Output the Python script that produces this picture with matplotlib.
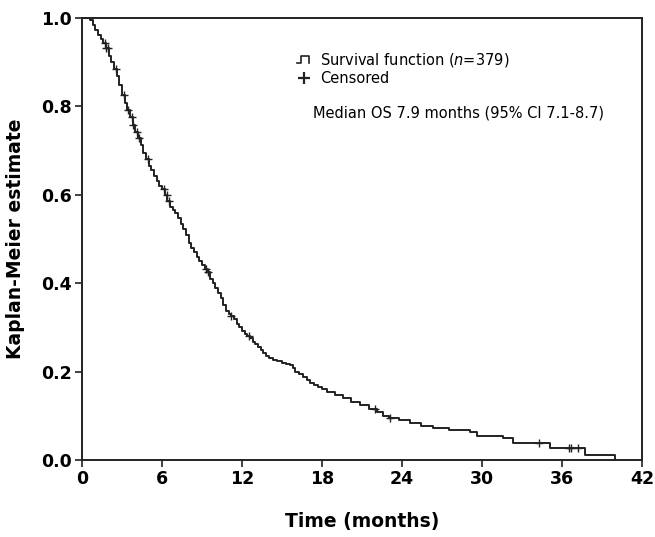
import numpy as np
import matplotlib
matplotlib.use("Agg")
import matplotlib.pyplot as plt
from matplotlib.lines import Line2D
from matplotlib.legend_handler import HandlerBase

# Kaplan-Meier steps (months, survival after the step)
step_times = [
    0.0, 0.6, 0.8, 1.0, 1.2, 1.4, 1.6, 1.8, 2.0, 2.2, 2.4, 2.6, 2.8, 3.0, 3.2,
    3.4, 3.6, 3.8, 4.0, 4.2, 4.4, 4.6, 4.8, 5.0, 5.2, 5.4, 5.6, 5.8, 6.0, 6.2,
    6.4, 6.6, 6.8, 7.0, 7.2, 7.4, 7.6, 7.8, 8.0, 8.2, 8.4, 8.6, 8.8, 9.0, 9.2,
    9.4, 9.6, 9.8, 10.0, 10.2, 10.4, 10.6, 10.8, 11.0, 11.2, 11.4, 11.6, 11.8,
    12.0, 12.2, 12.4, 12.6, 12.8, 13.0, 13.2, 13.4, 13.6, 13.8, 14.0, 14.3,
    14.6, 15.0, 15.3, 15.6, 15.8, 16.0, 16.3, 16.6, 16.9, 17.1, 17.4, 17.7,
    18.0, 18.4, 19.0, 19.6, 20.2, 20.85, 21.5, 22.1, 22.6, 23.0, 23.8, 24.6,
    25.4, 26.3, 27.5, 29.1, 29.6, 31.6, 32.3, 35.1, 37.7, 40.0,
]
step_surv = [
    1.0, 0.995, 0.985, 0.972, 0.962, 0.952, 0.943, 0.932, 0.915, 0.9, 0.885,
    0.868, 0.848, 0.825, 0.808, 0.792, 0.775, 0.758, 0.742, 0.728, 0.712,
    0.695, 0.68, 0.665, 0.655, 0.642, 0.632, 0.62, 0.612, 0.6, 0.585, 0.573,
    0.565, 0.558, 0.547, 0.535, 0.522, 0.508, 0.492, 0.48, 0.47, 0.46, 0.45,
    0.442, 0.433, 0.425, 0.41, 0.4, 0.39, 0.378, 0.366, 0.35, 0.338, 0.33,
    0.325, 0.318, 0.308, 0.3, 0.292, 0.285, 0.28, 0.275, 0.268, 0.262, 0.255,
    0.248, 0.242, 0.235, 0.231, 0.227, 0.223, 0.219, 0.217, 0.215, 0.208,
    0.2, 0.194, 0.188, 0.18, 0.174, 0.17, 0.165, 0.16, 0.154, 0.148, 0.14,
    0.132, 0.124, 0.116, 0.109, 0.1, 0.095, 0.09, 0.084, 0.078, 0.072, 0.068,
    0.063, 0.054, 0.050, 0.038, 0.027, 0.011, 0.0,
]
censor_times = [
    1.7, 1.8, 1.95, 2.55, 3.15, 3.45, 3.75, 3.85, 4.15, 4.3, 4.95, 6.15, 6.35,
    6.55, 9.3, 9.45, 11.2, 12.5, 22.0, 23.1, 34.3, 36.5, 36.7, 37.2,
]

x_ticks = [0, 6, 12, 18, 24, 30, 36, 42]
y_ticks = [0.0, 0.2, 0.4, 0.6, 0.8, 1.0]

n_patients = 379
median_text = "Median OS 7.9 months (95% CI 7.1-8.7)"

ink = "#222222"


class StepHandler(HandlerBase):
    # little "_|-|" glyph used by the reference legend
    def create_artists(self, legend, orig_handle, xdescent, ydescent,
                       width, height, fontsize, trans):
        xs = np.array([0.0, 0.3, 0.3, 0.85, 0.85]) * width - xdescent
        ys = np.array([0.15, 0.15, 0.85, 0.85, 0.15]) * height - ydescent
        line = Line2D(xs, ys, color=ink, lw=1.2, transform=trans)
        return [line]


def main() -> None:
    plt.rcParams["font.family"] = ["DejaVu Sans"]
    fig = plt.figure(figsize=(6.55, 5.37), dpi=100)
    ax = fig.add_axes([0.125, 0.1434, 0.855, 0.8231])

    times = np.array(step_times)
    surv = np.array(step_surv)
    ax.plot(times, surv, drawstyle="steps-post", color=ink, lw=1.4)

    idx = np.searchsorted(times, censor_times, side="right") - 1
    ax.plot(censor_times, surv[idx], linestyle="none", marker="+",
            markersize=6, markeredgewidth=1.0, color=ink)

    ax.set_xlim(0, 42)
    ax.set_ylim(0, 1.0)
    ax.set_xticks(x_ticks)
    ax.set_yticks(y_ticks)
    ax.set_yticklabels([f"{v:.1f}" for v in y_ticks])
    ax.tick_params(axis="both", direction="out", length=5, width=1.2,
                   color=ink, labelsize=12.5, pad=2)
    for lab in ax.get_xticklabels() + ax.get_yticklabels():
        lab.set_fontweight("bold")
    for sp in ax.spines.values():
        sp.set_linewidth(1.4)
        sp.set_color(ink)

    ax.set_xlabel("Time (months)", fontsize=13.5, fontweight="bold")
    ax.set_ylabel("Kaplan-Meier estimate", fontsize=13.5, fontweight="bold")
    ax.xaxis.set_label_coords(0.5, -0.118)
    ax.yaxis.set_label_coords(-0.102, 0.5)

    handles = [object(), Line2D([], [], linestyle="none", marker="+",
                                markersize=9, markeredgewidth=1.6, color=ink)]
    labels = [f"Survival function ($n$={n_patients})", "Censored"]
    ax.legend(handles, labels, loc="upper left",
              bbox_to_anchor=(0.36, 0.955), frameon=False, fontsize=10.5,
              handlelength=1.0, handletextpad=0.6, labelspacing=0.15,
              handler_map={object: StepHandler()})

    ax.text(0.4125, 0.785, median_text, transform=ax.transAxes,
            fontsize=10.5, va="center", ha="left", color="black")

    fig.savefig("out.png", dpi=100)
    plt.close(fig)


if __name__ == "__main__":
    main()
